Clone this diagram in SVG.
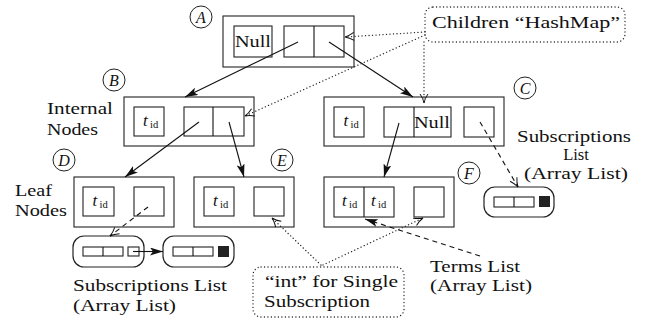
<svg xmlns="http://www.w3.org/2000/svg" width="645" height="322" viewBox="0 0 645 322">
  <style>
    .frame { fill: #fff; stroke: #222; stroke-width: 1.1; }
    .cell { fill: #fff; stroke: #222; stroke-width: 1.1; }
    .ring { fill: #fff; stroke: #222; stroke-width: 1; }
    .list { fill: #fff; stroke: #222; stroke-width: 1.2; }
    .solid { fill: none; stroke: #111; stroke-width: 1.1; }
    .dashed { fill: none; stroke: #111; stroke-width: 1.1; stroke-dasharray: 5 4; }
    .dotted { fill: none; stroke: #222; stroke-width: 1.3; stroke-dasharray: 0.1 3.4; stroke-linecap: round; }
  </style>
  <defs>
    <marker id="head" viewBox="0 0 13 8" refX="13" refY="4" markerWidth="13" markerHeight="8" markerUnits="userSpaceOnUse" orient="auto">
      <path d="M0,0 L13,4 L0,8 L3,4 z" fill="#111"/>
    </marker>
    <marker id="open" viewBox="-1 -1 11 10" refX="9" refY="4" markerWidth="11" markerHeight="10" markerUnits="userSpaceOnUse" orient="auto">
      <path d="M0,0 C3,2 6,3.4 9,4 C6,4.6 3,6 0,8" fill="none" stroke="#111" stroke-width="1"/>
    </marker>
  </defs>

  <!-- node A: root -->
  <g id="node-A">
    <rect class="frame" x="223" y="16" width="131" height="51"/>
    <rect class="cell" x="234" y="26" width="38" height="31"/>
    <text x="235" y="47" font-family="'Liberation Serif', serif" font-size="16.5" fill="#111" textLength="36" lengthAdjust="spacingAndGlyphs">Null</text>
    <rect class="cell" x="284" y="26" width="60" height="31"/>
    <line class="solid" x1="314" y1="26" x2="314" y2="57"/>
    <circle class="ring" cx="201" cy="17" r="11"/>
    <text x="201" y="22.5" font-family="'Liberation Serif', serif" font-size="16" font-style="italic" fill="#111" text-anchor="middle">A</text>
  </g>

  <!-- node B: internal -->
  <g id="node-B">
    <rect class="frame" x="124" y="97" width="130" height="49"/>
    <rect class="cell" x="134" y="107" width="30" height="29"/>
    <text x="143" y="126" font-family="'Liberation Serif', serif" font-size="17" font-style="italic" fill="#111">t</text>
    <text x="150" y="128" font-family="'Liberation Serif', serif" font-size="10.5" fill="#111">id</text>
    <rect class="cell" x="184" y="107" width="60" height="29"/>
    <line class="solid" x1="213" y1="107" x2="213" y2="136"/>
    <circle class="ring" cx="114" cy="80" r="11"/>
    <text x="114" y="85.5" font-family="'Liberation Serif', serif" font-size="16" font-style="italic" fill="#111" text-anchor="middle">B</text>
  </g>

  <!-- node C: internal -->
  <g id="node-C">
    <rect class="frame" x="324" y="97" width="180" height="49"/>
    <rect class="cell" x="334" y="107" width="30" height="30"/>
    <text x="343.5" y="126" font-family="'Liberation Serif', serif" font-size="17" font-style="italic" fill="#111">t</text>
    <text x="350.5" y="128" font-family="'Liberation Serif', serif" font-size="10.5" fill="#111">id</text>
    <rect class="cell" x="384" y="107" width="67" height="30"/>
    <line class="solid" x1="414" y1="107" x2="414" y2="137"/>
    <text x="414" y="127.5" font-family="'Liberation Serif', serif" font-size="16.5" fill="#111" textLength="36" lengthAdjust="spacingAndGlyphs">Null</text>
    <rect class="cell" x="464" y="107" width="30" height="30"/>
    <circle class="ring" cx="525" cy="88" r="11"/>
    <text x="525" y="93.5" font-family="'Liberation Serif', serif" font-size="16" font-style="italic" fill="#111" text-anchor="middle">C</text>
  </g>

  <!-- node D: leaf -->
  <g id="node-D">
    <rect class="frame" x="74" y="177" width="100" height="50"/>
    <rect class="cell" x="83" y="187" width="31" height="29"/>
    <text x="92.5" y="206" font-family="'Liberation Serif', serif" font-size="17" font-style="italic" fill="#111">t</text>
    <text x="99.5" y="208" font-family="'Liberation Serif', serif" font-size="10.5" fill="#111">id</text>
    <rect class="cell" x="134" y="187" width="30" height="29"/>
    <circle class="ring" cx="64" cy="160" r="11"/>
    <text x="64" y="165.5" font-family="'Liberation Serif', serif" font-size="16" font-style="italic" fill="#111" text-anchor="middle">D</text>
  </g>

  <!-- node E: leaf -->
  <g id="node-E">
    <rect class="frame" x="194" y="177" width="100" height="50"/>
    <rect class="cell" x="204" y="187" width="30" height="29"/>
    <text x="213" y="206" font-family="'Liberation Serif', serif" font-size="17" font-style="italic" fill="#111">t</text>
    <text x="220" y="208" font-family="'Liberation Serif', serif" font-size="10.5" fill="#111">id</text>
    <rect class="cell" x="254" y="187" width="30" height="29"/>
    <circle class="ring" cx="282" cy="160" r="11"/>
    <text x="282" y="165.5" font-family="'Liberation Serif', serif" font-size="16" font-style="italic" fill="#111" text-anchor="middle">E</text>
  </g>

  <!-- node F: leaf with two terms -->
  <g id="node-F">
    <rect class="frame" x="324" y="177" width="130" height="50"/>
    <rect class="cell" x="334" y="187" width="60" height="30"/>
    <line class="solid" x1="364" y1="187" x2="364" y2="217"/>
    <text x="342" y="206" font-family="'Liberation Serif', serif" font-size="17" font-style="italic" fill="#111">t</text>
    <text x="349" y="208" font-family="'Liberation Serif', serif" font-size="10.5" fill="#111">id</text>
    <text x="371" y="206" font-family="'Liberation Serif', serif" font-size="17" font-style="italic" fill="#111">t</text>
    <text x="378" y="208" font-family="'Liberation Serif', serif" font-size="10.5" fill="#111">id</text>
    <rect class="cell" x="414" y="187" width="30" height="30"/>
    <circle class="ring" cx="469" cy="173" r="11"/>
    <text x="469" y="178.5" font-family="'Liberation Serif', serif" font-size="16" font-style="italic" fill="#111" text-anchor="middle">F</text>
  </g>

  <!-- subscription array lists -->
  <g id="list-C">
    <rect class="list" x="484" y="187" width="70" height="30" rx="11"/>
    <rect class="cell" x="494" y="197" width="40" height="10"/>
    <line class="solid" x1="514" y1="197" x2="514" y2="207"/>
    <rect x="539" y="196" width="11" height="11" fill="#222"/>
  </g>
  <g id="list-D1">
    <rect class="list" x="73" y="236" width="71" height="31" rx="11"/>
    <rect class="cell" x="83" y="247" width="40" height="9"/>
    <line class="solid" x1="103" y1="247" x2="103" y2="256"/>
    <rect class="cell" x="128" y="247" width="11" height="9"/>
  </g>
  <g id="list-D2">
    <rect class="list" x="163" y="236" width="71" height="31" rx="11"/>
    <rect class="cell" x="173" y="247" width="40" height="9"/>
    <line class="solid" x1="193" y1="247" x2="193" y2="256"/>
    <rect x="218" y="246" width="11" height="11" fill="#222"/>
  </g>

  <!-- callout boxes -->
  <g id="note-children">
    <rect class="dotted" x="425" y="7" width="200" height="35" rx="8"/>
    <text x="432" y="28" font-family="'Liberation Serif', serif" font-size="16.5" fill="#111" textLength="188" lengthAdjust="spacingAndGlyphs">Children “HashMap”</text>
  </g>
  <g id="note-int">
    <rect class="dotted" x="253" y="267" width="151" height="50" rx="8"/>
    <text x="265" y="287" font-family="'Liberation Serif', serif" font-size="16.5" fill="#111" textLength="133" lengthAdjust="spacingAndGlyphs">“int” for Single</text>
    <text x="264" y="307" font-family="'Liberation Serif', serif" font-size="16.5" fill="#111" textLength="106" lengthAdjust="spacingAndGlyphs">Subscription</text>
  </g>

  <!-- free labels -->
  <g id="labels">
    <text x="47" y="114" font-family="'Liberation Serif', serif" font-size="16.5" fill="#111" textLength="66" lengthAdjust="spacingAndGlyphs">Internal</text>
    <text x="47" y="135" font-family="'Liberation Serif', serif" font-size="16.5" fill="#111" textLength="51" lengthAdjust="spacingAndGlyphs">Nodes</text>
    <text x="15" y="196" font-family="'Liberation Serif', serif" font-size="16.5" fill="#111" textLength="37" lengthAdjust="spacingAndGlyphs">Leaf</text>
    <text x="15" y="216" font-family="'Liberation Serif', serif" font-size="16.5" fill="#111" textLength="52" lengthAdjust="spacingAndGlyphs">Nodes</text>
    <text x="517" y="142" font-family="'Liberation Serif', serif" font-size="16.5" fill="#111" textLength="114" lengthAdjust="spacingAndGlyphs">Subscriptions</text>
    <text x="576" y="160" font-family="'Liberation Serif', serif" font-size="16.5" fill="#111" text-anchor="middle">List</text>
    <text x="524" y="179" font-family="'Liberation Serif', serif" font-size="16.5" fill="#111" textLength="104" lengthAdjust="spacingAndGlyphs">(Array List)</text>
    <text x="73" y="291" font-family="'Liberation Serif', serif" font-size="16.5" fill="#111" textLength="154" lengthAdjust="spacingAndGlyphs">Subscriptions List</text>
    <text x="73" y="311" font-family="'Liberation Serif', serif" font-size="16.5" fill="#111" textLength="103" lengthAdjust="spacingAndGlyphs">(Array List)</text>
    <text x="430" y="272" font-family="'Liberation Serif', serif" font-size="16.5" fill="#111" textLength="90" lengthAdjust="spacingAndGlyphs">Terms List</text>
    <text x="430" y="291" font-family="'Liberation Serif', serif" font-size="16.5" fill="#111" textLength="102" lengthAdjust="spacingAndGlyphs">(Array List)</text>
  </g>

  <!-- connectors -->
  <g id="connectors">
    <line class="solid" x1="298" y1="42" x2="185" y2="97" marker-end="url(#head)"/>
    <line class="solid" x1="329" y1="42" x2="413" y2="97" marker-end="url(#head)"/>
    <line class="solid" x1="199" y1="122" x2="125" y2="177" marker-end="url(#head)"/>
    <line class="solid" x1="229" y1="122" x2="244" y2="177" marker-end="url(#head)"/>
    <line class="solid" x1="399" y1="123" x2="384" y2="177" marker-end="url(#head)"/>
    <line class="solid" x1="133" y1="251.5" x2="163" y2="251.5" marker-end="url(#head)"/>
    <line class="dashed" x1="480" y1="122" x2="518" y2="187" marker-end="url(#open)"/>
    <line class="dashed" x1="148" y1="207" x2="110" y2="236" marker-end="url(#open)"/>
    <line class="dashed" x1="480" y1="256" x2="365" y2="219" marker-end="url(#head)"/>
    <line class="dotted" x1="425" y1="32" x2="345" y2="37" marker-end="url(#open)"/>
    <line class="dotted" x1="425" y1="35" x2="245" y2="116" marker-end="url(#open)"/>
    <line class="dotted" x1="424" y1="42" x2="424" y2="103" marker-end="url(#open)"/>
    <line class="dotted" x1="321" y1="265" x2="272" y2="218" marker-end="url(#open)"/>
    <line class="dotted" x1="323" y1="265" x2="423" y2="218" marker-end="url(#open)"/>
  </g>
</svg>
